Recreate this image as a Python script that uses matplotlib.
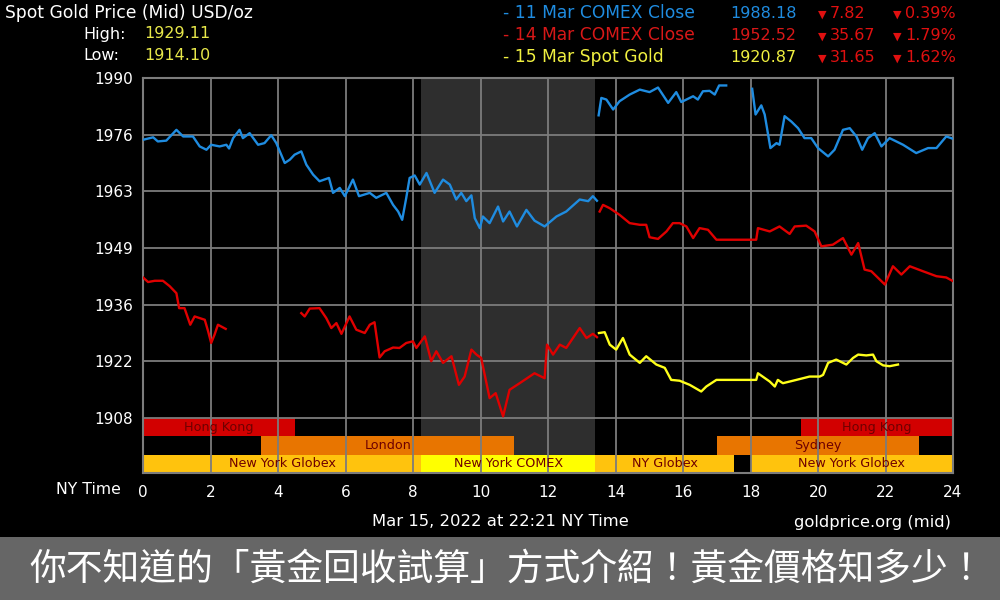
import numpy as np
import matplotlib
matplotlib.use('Agg')
import matplotlib.pyplot as plt
from matplotlib.patches import Rectangle

nan = np.nan

# 11 Mar COMEX close line (blue), NaN = gap
blue_hours = [0, 0.3, 0.44, 0.69, 0.99, 1.19, 1.48, 1.68, 1.88, 2.02, 2.27, 2.47, 2.55, 2.67, 2.86, 2.96,
              3.16, 3.41, 3.6, 3.8, 3.95, 4.2, 4.35, 4.49, 4.69, 4.84, 5.04, 5.23, 5.51, 5.63, 5.83, 5.98,
              6.22, 6.4, 6.72, 6.91, 7.21, 7.41, 7.56, 7.68, 7.8, 7.9, 8.05, 8.2, 8.4, 8.64, 8.89, 9.09,
              9.28, 9.43, 9.58, 9.73, 9.83, 9.98, 10.07, 10.27, 10.52, 10.67, 10.86, 11.08, 11.36, 11.6,
              11.9, 12.25, 12.54, 12.94, 13.19, 13.33, 13.45, 13.47,
              13.5, 13.58, 13.73, 13.93, 14.12, 14.42, 14.72, 15.01, 15.26, 15.56, 15.8, 15.95, 16.1, 16.3,
              16.44, 16.59, 16.79, 16.94, 17.07, 17.28, 17.6,
              18.05, 18.15, 18.32, 18.42, 18.59, 18.77, 18.86, 19.01, 19.21, 19.41, 19.6, 19.8, 20.0, 20.3,
              20.49, 20.74, 20.94, 21.14, 21.31, 21.48, 21.68, 21.88, 22.12, 22.52, 22.91, 23.26, 23.51,
              23.8, 23.98]
blue_prices = [1975.1, 1975.7, 1974.7, 1974.9, 1977.5, 1975.9, 1975.9, 1973.5, 1972.7, 1973.9, 1973.5,
               1973.9, 1973.0, 1975.5, 1977.5, 1975.5, 1976.7, 1973.9, 1974.3, 1976.2, 1974.3, 1969.5,
               1970.3, 1971.5, 1972.3, 1969.1, 1966.7, 1965.1, 1965.9, 1962.3, 1963.5, 1961.5, 1965.5,
               1961.5, 1962.3, 1961.1, 1962.3, 1959.4, 1957.8, 1955.8, 1961.1, 1965.9, 1966.5, 1964.3,
               1967.1, 1962.3, 1965.5, 1964.3, 1960.7, 1962.3, 1960.3, 1961.7, 1956.2, 1953.8, 1956.6,
               1955.0, 1959.0, 1955.4, 1957.8, 1954.2, 1958.2, 1955.6, 1954.2, 1956.6, 1957.8, 1960.7,
               1960.3, 1961.5, 1960.4, nan,
               1981.0, 1985.2, 1984.8, 1982.4, 1984.4, 1986.0, 1987.2, 1986.6, 1987.7, 1984.0, 1986.6,
               1984.2, 1984.8, 1985.6, 1984.8, 1986.8, 1986.9, 1986.0, 1988.2, 1988.2, nan,
               1987.4, 1981.2, 1983.4, 1981.2, 1973.1, 1974.3, 1973.9, 1980.8, 1979.5, 1977.9, 1975.5,
               1975.5, 1973.1, 1971.1, 1972.7, 1977.5, 1977.9, 1975.9, 1972.7, 1975.5, 1976.7, 1973.5,
               1975.5, 1973.9, 1971.9, 1973.1, 1973.1, 1975.9, 1975.4]

# 14 Mar COMEX close line (red)
red_hours = [0, 0.15, 0.35, 0.59, 0.79, 0.99, 1.07, 1.23, 1.4, 1.53, 1.83, 1.93, 2.02, 2.12, 2.22, 2.45, 3.0,
             4.69, 4.79, 4.94, 5.23, 5.43, 5.58, 5.73, 5.88, 6.12, 6.32, 6.57, 6.72, 6.86, 7.01, 7.16, 7.41,
             7.6, 7.8, 8.0, 8.1, 8.35, 8.54, 8.69, 8.89, 9.14, 9.36, 9.53, 9.73, 9.88, 10.02, 10.27, 10.45,
             10.67, 10.86, 11.16, 11.6, 11.9, 11.97, 12.15, 12.35, 12.54, 12.74, 12.94, 13.14, 13.33, 13.45,
             13.49,
             13.53, 13.63, 13.83, 14.12, 14.42, 14.72, 14.91, 15.01, 15.26, 15.51, 15.7, 15.9, 16.1, 16.3,
             16.49, 16.74, 16.99, 18.17, 18.22, 18.57, 18.86, 19.16, 19.31, 19.65, 19.9, 20.1, 20.44, 20.74,
             20.99, 21.19, 21.38, 21.58, 21.83, 21.98, 22.22, 22.47, 22.72, 23.11, 23.51, 23.8, 23.98]
red_prices = [1941.9, 1940.8, 1941.1, 1941.1, 1939.8, 1938.1, 1934.5, 1934.5, 1930.5, 1932.5, 1931.7,
              1928.9, 1926.1, 1928.1, 1930.5, 1929.5, nan,
              1933.3, 1932.5, 1934.4, 1934.5, 1932.1, 1929.7, 1930.9, 1928.3, 1932.5, 1929.3, 1928.5,
              1930.5, 1931.1, 1922.6, 1924.1, 1925.0, 1924.9, 1926.1, 1926.5, 1924.9, 1927.7, 1921.7,
              1924.1, 1921.3, 1922.9, 1916.0, 1918.0, 1924.5, 1923.3, 1922.5, 1912.8, 1914.0, 1908.4,
              1914.8, 1916.4, 1918.8, 1917.6, 1925.7, 1923.3, 1925.7, 1924.9, 1927.3, 1929.7, 1927.3,
              1928.3, 1927.5, nan,
              1957.8, 1959.4, 1958.6, 1957.0, 1955.0, 1954.6, 1954.6, 1951.6, 1951.2, 1953.0, 1955.0,
              1955.0, 1954.2, 1951.4, 1953.8, 1953.4, 1951.0, 1951.0, 1953.8, 1953.0, 1954.2, 1952.4,
              1954.2, 1954.4, 1953.0, 1949.4, 1949.8, 1951.4, 1947.4, 1950.2, 1943.8, 1943.4, 1941.4,
              1940.2, 1944.6, 1942.6, 1944.6, 1943.4, 1942.2, 1941.9, 1941.1]

# 15 Mar spot gold (yellow)
yellow_hours = [13.51, 13.68, 13.83, 14.02, 14.22, 14.42, 14.72, 14.91, 15.21, 15.46, 15.65, 15.9, 16.2,
                16.54, 16.69, 16.99, 18.17, 18.22, 18.57, 18.72, 18.81, 18.96, 19.36, 19.75, 20.05, 20.15,
                20.3, 20.54, 20.84, 21.04, 21.19, 21.43, 21.63, 21.73, 21.93, 22.12, 22.37]
yellow_prices = [1928.5, 1928.7, 1925.7, 1924.5, 1927.3, 1923.3, 1921.3, 1922.9, 1920.9, 1920.1, 1917.2,
                 1917.0, 1916.0, 1914.4, 1915.6, 1917.2, 1917.2, 1918.8, 1916.8, 1915.6, 1917.2, 1916.4,
                 1917.2, 1918.0, 1918.0, 1918.4, 1921.3, 1922.1, 1920.9, 1922.5, 1923.3, 1923.1, 1923.3,
                 1921.7, 1920.7, 1920.5, 1920.9]

# market sessions (hours, NY time)
session_names = ['Hong Kong', 'London', 'New York Globex', 'New York COMEX', 'NY Globex',
                 'Sydney', 'New York Globex', 'Hong Kong']
session_start = [0, 3.5, 0, 8.25, 13.4, 17, 18, 19.5]
session_end = [4.5, 11, 8.25, 13.4, 17.5, 23, 24, 24]
comex_open = (8.25, 13.4)

ytick_labels = ['1908', '1922', '1936', '1949', '1963', '1976', '1990']
xtick_labels = [str(h) for h in range(0, 25, 2)]

header_names = ['- 11 Mar COMEX Close', '- 14 Mar COMEX Close', '- 15 Mar Spot Gold']
header_prices = ['1988.18', '1952.52', '1920.87']
header_change = ['7.82', '35.67', '31.65']
header_pct = ['0.39%', '1.79%', '1.62%']
high_low = [('High:', '1929.11'), ('Low:', '1914.10')]

BLUE = '#1f8ce0'
RED = '#e00000'
YEL = '#ffff1a'
GRID = '#7c7c7c'

fig = plt.figure(figsize=(10, 6), dpi=100, facecolor='black')
ax = fig.add_axes([0.143, 0.2117, 0.81, 0.6583])
ax.set_facecolor('black')

ymin, ymax = 1894.75, 1990
ax.set_xlim(0, 24)
ax.set_ylim(ymin, ymax)

ax.axvspan(comex_open[0], comex_open[1], color='#2e2e2e', zorder=0.5, lw=0)

# session bars
row_of = {'Hong Kong': 0, 'London': 1, 'Sydney': 1,
          'New York Globex': 2, 'New York COMEX': 2, 'NY Globex': 2}
color_of = {'Hong Kong': '#d20000', 'London': '#e87500', 'Sydney': '#e87500',
            'New York Globex': '#ffc30d', 'New York COMEX': '#ffff00', 'NY Globex': '#ffc30d'}
row_h = (1908 - ymin) / 3
for name, s, e in zip(session_names, session_start, session_end):
    yc = 1908 - row_h * (row_of[name] + 0.5)
    ax.barh(yc, e - s, left=s, height=row_h, color=color_of[name], zorder=1, lw=0)
    ax.text((s + e) / 2, yc, name, ha='center', va='center', fontsize=9.2,
            color='#6e0000', zorder=4)

ax.plot(blue_hours, blue_prices, color=BLUE, lw=1.7, zorder=3)
ax.plot(red_hours, red_prices, color=RED, lw=1.7, zorder=3)
ax.plot(yellow_hours, yellow_prices, color=YEL, lw=1.7, zorder=3)

ax.set_yticks(np.linspace(1908, 1990, 7))
ax.set_yticklabels(ytick_labels)
ax.set_xticks(range(0, 25, 2))
ax.set_xticklabels(xtick_labels)
ax.tick_params(colors='white', labelsize=11, length=0)
ax.tick_params(axis='y', pad=7)
ax.tick_params(axis='x', pad=9)
ax.set_axisbelow(False)
ax.grid(True, color=GRID, lw=1.3, zorder=2.5)
for sp in ax.spines.values():
    sp.set_color(GRID)
    sp.set_linewidth(1.5)

# header
fig.text(0.005, 1 - 13 / 600, 'Spot Gold Price (Mid) USD/oz', color='white', fontsize=12.3, va='center')
for i, (lab, val) in enumerate(high_low):
    yy = 1 - (34 + 22 * i) / 600
    fig.text(0.083, yy, lab, color='white', fontsize=11.5, va='center')
    fig.text(0.144, yy, val, color='#e8e84a', fontsize=11.5, va='center')

for i, col in enumerate([BLUE, '#d81818', '#f0f040']):
    yy = 1 - (13 + 22 * i) / 600
    fig.text(0.503, yy, header_names[i], color=col, fontsize=12.3, va='center')
    fig.text(0.730, yy, header_prices[i], color=col, fontsize=11.5, va='center')
    fig.text(0.818, yy - 0.002, '\u25bc', color='#e01010', fontsize=8, va='center')
    fig.text(0.830, yy, header_change[i], color='#e01010', fontsize=11.5, va='center')
    fig.text(0.893, yy - 0.002, '\u25bc', color='#e01010', fontsize=8, va='center')
    fig.text(0.905, yy, header_pct[i], color='#e01010', fontsize=11.5, va='center')

# footer
fig.text(0.088, 1 - 490 / 600, 'NY Time', color='white', fontsize=11.3, ha='center', va='center')
fig.text(0.5, 1 - 522 / 600, 'Mar 15, 2022 at 22:21 NY Time', color='white', fontsize=11.8,
         ha='center', va='center')
fig.text(0.951, 1 - 522 / 600, 'goldprice.org (mid)', color='white', fontsize=11.8,
         ha='right', va='center')

fig.patches.append(Rectangle((0, 0), 1, 63 / 600, transform=fig.transFigure,
                             facecolor='#666666', edgecolor='none', zorder=0))
fig.text(0.507, 1 - 569 / 600, '你不知道的「黃金回收試算」方式介紹！黃金價格知多少！',
         color='white', fontsize=26.5, ha='center', va='center',
         family=['Noto Sans CJK TC', 'DejaVu Sans'])

fig.savefig('out.png', dpi=100, facecolor='black')
